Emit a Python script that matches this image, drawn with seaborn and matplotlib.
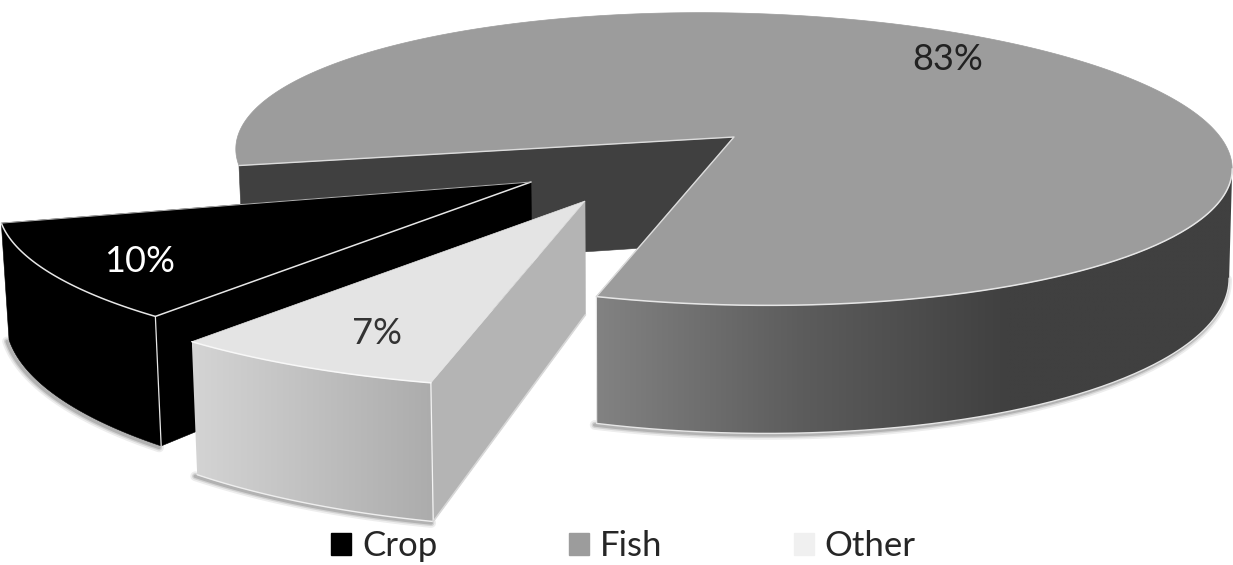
import numpy as np
import matplotlib
matplotlib.use("Agg")
import matplotlib.pyplot as plt
from matplotlib.patches import Patch, Polygon
import seaborn as sns

# Share of each source, in percent
categories = ["Crop", "Fish", "Other"]
shares = [10, 83, 7]

sns.set_theme(style="white")
plt.rcParams["font.family"] = ["Lato", "DejaVu Sans"]

FISH_GREY, OTHER_TOP, OTHER_KEY = "#9c9c9c", "#e4e4e4", "#f0f0f0"
key_colors = sns.color_palette(["#000000", FISH_GREY, OTHER_KEY])
EDGE = "#e6e6e6"

# Perspective of the disc: tilt, horizontal and vertical scale
TILT, SCALE_X, SCALE_Y = 0.1507, 492.5, 142.7
START_ANGLE = 195.0
# Where each slice's tip lands, how much it grows as it comes forward,
# and how far its plane leans downward to the right
tips = {"Crop": (531.0, 182.0), "Fish": (734.0, 137.0), "Other": (585.0, 201.0)}
growth = {"Crop": 1.07, "Fish": 1.0, "Other": 1.12}
lean = {"Crop": 0.0, "Fish": 0.02, "Other": 0.0}


def project(name, angles):
    """Map disc angles (degrees) to axes coordinates for one slice."""
    t = np.radians(angles)
    u, v = np.cos(t), np.sin(t)
    p = 1 + TILT * v
    tx, ty = tips[name]
    g = growth[name]
    dx = g * SCALE_X * u / p
    return tx + dx, ty - g * SCALE_Y * v / p + lean[name] * dx


def lower(xs, ys):
    """Bottom rim of a wall: taller toward the viewer, verticals converging."""
    xs, ys = np.asarray(xs, float), np.asarray(ys, float)
    converge = np.where(xs < 620, 0.0125, 0.005)
    return xs + (620 - xs) * converge, ys + 108 + 20 * (ys - 159) / 146


def wall_outline(xs, ys):
    bx, by = lower(xs, ys)
    return list(zip(xs, ys)) + list(zip(bx[::-1], by[::-1]))


def flat_wall(ax, xs, ys, color, z):
    ax.add_patch(Polygon(wall_outline(xs, ys), closed=True, fc=color, ec=color, lw=0.4, zorder=z))


def shaded_wall(ax, xs, ys, stops, span, z):
    """Left-to-right grey ramp over a curved wall, flat after the span ends."""
    outline = wall_outline(xs, ys)
    px = np.array([p[0] for p in outline])
    py = np.array([p[1] for p in outline])
    left, right = px.min(), px.max()
    columns = np.linspace(left, right, 400)
    ramp = np.array(sns.blend_palette(stops, 256))
    index = np.clip((columns - left) / span * 255, 0, 255).astype(int)
    im = ax.imshow(ramp[index][None, :, :], extent=(left, right, py.max(), py.min()),
                   aspect="auto", interpolation="bilinear", zorder=z)
    mask = Polygon(outline, closed=True, transform=ax.transData, fc="none", ec="none")
    ax.add_patch(mask)
    im.set_clip_path(mask)


def shadow(ax, xs, ys, z):
    bx, by = lower(xs, ys)
    for width, alpha in [(7, 0.10), (4.5, 0.16), (2.5, 0.25)]:
        ax.plot(bx - 2, by + 1.5, color="#505050", lw=width, alpha=alpha,
                solid_capstyle="round", zorder=z)


fig = plt.figure(figsize=(12.33, 5.65), dpi=100)
ax = fig.add_axes([0, 0, 1, 1])

sweeps = 360 * np.array(shares) / sum(shares)
crop_a = np.linspace(START_ANGLE, START_ANGLE + sweeps[0], 80)
other_a = np.linspace(crop_a[-1], crop_a[-1] + sweeps[2], 80)
fish_a = np.linspace(other_a[-1], other_a[-1] + sweeps[1], 500)

# Fish: inner back wall, then the shaded outer wall up to the widest point, then the top
fx, fy = project("Fish", fish_a)
tipx, tipy = tips["Fish"]
flat_wall(ax, np.array([fx[-1], tipx]), np.array([fy[-1], tipy]), "#404040", 1)
front = np.arange(len(fx)) <= np.argmax(fx)
shadow(ax, fx[front], fy[front], 1)
shaded_wall(ax, fx[front], fy[front], ["#828282", "#5c5c5c", "#404040"], 410, 2)
ax.plot(*zip((fx[0], fy[0]), (lower(fx[0], fy[0]))), color=EDGE, lw=0.8, zorder=3)
ax.plot(*lower(fx[front], fy[front]), color=EDGE, lw=1.0, zorder=3)
ax.add_patch(Polygon(list(zip(fx, fy)) + [(tipx, tipy)], closed=True,
                     fc=FISH_GREY, ec=FISH_GREY, lw=0.5, zorder=3))
ax.plot(fx[front], fy[front], color=EDGE, lw=1.1, zorder=4)
ax.plot([fx[-1], tipx, fx[0]], [fy[-1], tipy, fy[0]], color="#dcdcdc", lw=1.0, zorder=4)

# Crop: black slice pulled out to the left
cx, cy = project("Crop", crop_a)
tx, ty = tips["Crop"]
shadow(ax, cx, cy, 5)
flat_wall(ax, cx, cy, "#000000", 6)
flat_wall(ax, np.array([cx[-1], tx]), np.array([cy[-1], ty]), "#000000", 6)
ax.add_patch(Polygon(list(zip(cx, cy)) + [(tx, ty)], closed=True,
                     fc="#000000", ec="#000000", lw=0.5, zorder=7))
ax.plot(list(cx) + [tx], list(cy) + [ty], color=EDGE, lw=1.1, zorder=8)
ax.plot([cx[0], tx], [cy[0], ty], color="#b0b0b0", lw=0.7, zorder=8)
ax.plot(*zip((cx[-1], cy[-1]), lower(cx[-1], cy[-1])), color=EDGE, lw=0.9, zorder=8)

# Other: pale slice in front of the rest
ox, oy = project("Other", other_a)
tx, ty = tips["Other"]
shadow(ax, ox, oy, 9)
flat_wall(ax, np.array([ox[-1], tx]), np.array([oy[-1], ty]), "#b4b4b4", 10)
shaded_wall(ax, ox, oy, ["#d4d4d4", "#acacac"], 240, 10)
ax.add_patch(Polygon(list(zip(ox, oy)) + [(tx, ty)], closed=True,
                     fc=OTHER_TOP, ec=OTHER_TOP, lw=0.5, zorder=11))
ax.plot(ox, oy, color="#f8f8f8", lw=1.1, zorder=12)
ax.plot(*zip((ox[-1], oy[-1]), lower(ox[-1], oy[-1])), color="#f4f4f4", lw=0.9, zorder=12)
ax.plot(*lower(ox, oy), color="#eeeeee", lw=1.0, zorder=12)
ax.plot(*zip(lower(ox[-1], oy[-1]), lower(tx, ty)), color="#d8d8d8", lw=1.2, zorder=12)

# Percentage labels
label_spots = {"Crop": (140, 262), "Fish": (948, 59), "Other": (377, 334)}
label_colors = {"Crop": "#ffffff", "Fish": "#222222", "Other": "#333333"}
for name, share in zip(categories, shares):
    ax.text(*label_spots[name], f"{share}%", ha="center", va="center",
            fontsize=26, color=label_colors[name], zorder=20)

ax.set_xlim(0, 1233)
ax.set_ylim(565, 0)
ax.axis("off")

# Legend along the bottom edge
handles = [Patch(fc=c, ec=c) for c in key_colors]
ax.legend(handles, categories, loc="center", bbox_to_anchor=(623.5, 546),
          bbox_transform=ax.transData, ncol=3, frameon=False, fontsize=25,
          handlelength=0.58, handleheight=0.58, handletextpad=0.3,
          columnspacing=3.8, borderpad=0, labelspacing=0)

fig.savefig("out.png", dpi=100, facecolor="white")
